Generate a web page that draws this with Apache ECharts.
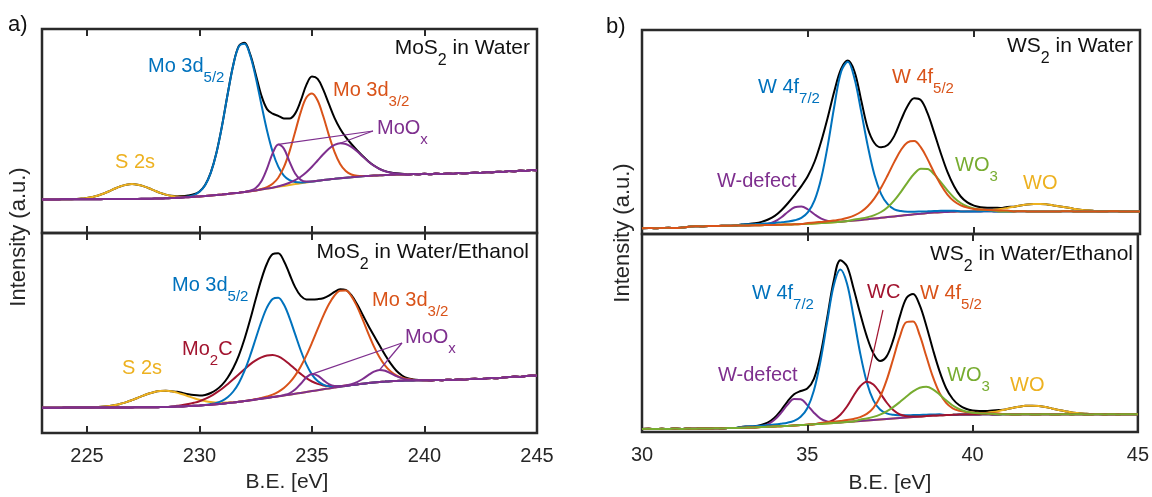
<!DOCTYPE html>
<html>
<head>
<meta charset="utf-8">
<title>XPS core levels of MoS2 and WS2</title>
<script src="https://cdn.jsdelivr.net/npm/echarts@6/dist/echarts.min.js"></script>
<style>
  html, body { margin: 0; padding: 0; background: #ffffff; }
  #chart { width: 1152px; height: 497px; }
</style>
</head>
<body>
<div id="chart"></div>
<script>
// ---------------- binding-energy grids ----------------
const moBeMin = 223, moBeMax = 245, moStep = 0.25;   // Mo 3d / S 2s window
const wBeMin = 30, wBeMax = 45, wStep = 0.2;          // W 4f window
const moTicks = [225, 230, 235, 240, 245];
const wTicks = [30, 35, 40, 45];

// ---------------- a) MoS2 in water ----------------
// Shirley background, one value per grid step from 223 eV
const moWaterBg = [
  33.6,33.6,33.6,33.6,33.7,33.7,33.7,33.7,33.8,33.8,
  33.8,33.9,33.9,34.0,34.0,34.0,34.1,34.1,34.2,34.3,
  34.4,34.5,34.7,34.9,35.2,35.5,35.8,36.2,36.6,37.0,
  37.5,38.0,38.5,39.1,39.7,40.3,41.0,41.8,42.6,43.5,
  44.4,45.3,46.2,47.1,48.0,48.9,49.8,50.6,51.4,52.2,
  52.9,53.6,54.2,54.8,55.3,55.8,56.3,56.7,57.1,57.4,
  57.7,58.0,58.2,58.4,58.6,58.3,58.9,58.6,59.2,58.8,
  59.4,59.0,59.6,59.3,59.9,59.5,60.1,60.4,60.0,60.8,
  60.5,61.3,61.0,61.9,61.6,62.4,62.1,63.0,62.6];
// envelope and fitted components: intensity above background, starting at *From (eV)
const moWaterEnvFrom = 224.5;
const moWaterEnv = [
  0.3,0.7,1.3,2.2,3.7,5.6,8.0,10.5,12.7,14.2,
  14.8,14.2,12.7,10.5,8.0,5.6,3.7,2.3,1.6,1.4,
  1.8,2.5,5.0,11.0,22.8,42.0,68.6,99.7,128.4,146.8,
  149.2,137.0,116.0,94.0,79.5,74.0,71.0,67.5,66.5,70.5,
  82.5,97.5,105.0,102.0,90.5,75.5,61.0,49.5,40.5,33.2,
  26.5,20.4,14.7,10.1,6.5,3.9,2.3,1.3,0.7,0.3];
const moWaterS2sFrom = 224.5;
const moWaterS2s = [0.3,0.7,1.3,2.2,3.7,5.6,8.0,10.5,12.7,14.2,14.8,14.2,12.7,10.5,8.0,5.6,3.7,2.2,1.3,0.7,0.3];
const moWater3d52From = 229.5;
const moWater3d52 = [0.6,1.7,4.6,10.8,22.6,41.8,68.4,99.5,128.1,146.3,148.3,135.9,112.9,85.0,58.1,36.0,20.2,10.3,4.8,2.0,0.8,0.3];
const moWater3d32From = 232.75;
const moWater3d32 = [0.5,1.5,3.9,9.1,18.7,33.4,52.1,71.1,84.8,88.2,80.3,63.8,44.3,26.9,14.2,6.6,2.7,0.9,0.3];
const moWaterOx1From = 232.25;
const moWaterOx1 = [0.5,2.4,8.2,19.9,34.4,42.4,37.3,23.4,10.5,3.3,0.8,0.1];
const moWaterOx2From = 233.5;
const moWaterOx2 = [0.5,1.1,2.2,3.9,6.5,10.2,14.9,20.3,25.8,30.6,33.9,35.0,33.7,30.3,25.4,19.9,14.5,9.9,6.3,3.7,2.1,1.1,0.5,0.2];

// ---------------- a) MoS2 in water/ethanol ----------------
const moEthBg = [
  25.3,25.3,25.3,25.3,25.4,25.4,25.4,25.4,25.4,25.5,
  25.5,25.5,25.5,25.5,25.6,25.6,25.6,25.7,25.7,25.8,
  25.8,25.9,26.0,26.2,26.4,26.6,26.9,27.2,27.5,27.9,
  28.3,28.8,29.3,29.9,30.5,31.2,31.9,32.7,33.5,34.3,
  35.1,35.9,36.7,37.5,38.3,39.2,40.1,41.0,41.9,42.8,
  43.7,44.6,45.5,46.3,47.1,47.9,48.6,49.3,49.9,50.5,
  51.0,51.4,51.8,52.1,52.3,52.5,52.6,52.7,52.8,52.6,
  53.1,52.8,53.3,53.0,53.6,53.3,53.9,54.2,53.9,54.6,
  55.0,54.7,55.5,55.9,56.4,56.1,56.9,57.4,57.2];
const moEthEnvFrom = 225.25;
const moEthEnv = [
  0.3,0.5,0.9,1.5,2.4,3.7,5.3,7.3,9.4,11.7,
  13.7,15.3,16.1,16.2,15.5,14.8,13.4,11.9,10.7,10.0,
  10.2,11.7,14.5,18.8,25.4,34.5,46.5,62.1,80.5,100.5,
  119.3,134.4,142.9,143.0,134.6,120.7,106.7,97.0,92.6,91.5,
  91.0,91.1,92.7,95.6,97.4,96.0,89.9,80.3,69.0,57.7,
  47.0,36.7,26.7,17.5,10.1,5.2,2.3,1.0,0.3];
const moEthS2sFrom = 225.25;
const moEthS2s = [0.3,0.5,0.9,1.5,2.4,3.7,5.3,7.3,9.4,11.7,13.7,15.3,16.1,16.2,15.5,14.0,12.1,9.9,7.7,5.7,4.0,2.6,1.7,1.0,0.6,0.3];
const moEthMo2CFrom = 229.0;
const moEthMo2C = [0.8,1.3,2.0,3.0,4.3,6.2,8.5,11.5,14.9,18.9,23.2,27.6,31.9,35.9,39.1,41.4,42.5,42.2,39.9,35.8,30.5,24.7,19.0,13.8,9.6,6.3,3.9,2.3,1.3,0.7,0.4];
const moEth3d52From = 230.5;
const moEth3d52 = [0.6,1.3,2.9,5.9,11.0,18.9,30.2,44.6,61.0,77.2,90.5,98.2,98.6,90.9,76.8,59.6,42.4,27.6,16.5,9.1,4.6,2.1,0.9,0.3];
const moEth3d32From = 232.5;
const moEth3d32 = [0.4,0.7,1.4,2.5,4.5,7.5,12.0,18.2,26.4,36.6,48.4,61.0,73.4,84.1,92.0,96.0,95.3,89.0,78.0,64.3,49.8,36.2,24.7,15.9,9.6,5.4,2.9,1.4,0.7,0.3];
const moEthOx1From = 233.75;
const moEthOx1 = [0.4,1.4,4.2,9.2,14.6,17.0,14.6,9.2,4.2,1.4,0.4];
const moEthOx2From = 236.5;
const moEthOx2 = [0.3,0.9,2.3,4.7,7.9,10.8,12.0,10.8,7.9,4.7,2.3,0.9,0.3];

// ---------------- b) WS2 in water ----------------
const wWaterBg = [
  5.8,6.1,5.7,6.0,6.3,5.9,6.4,7.2,7.8,7.6,
  8.0,7.9,8.2,8.3,8.4,8.5,8.6,8.7,8.8,9.0,
  9.1,9.3,9.5,9.7,9.9,10.2,10.5,10.9,11.3,11.8,
  12.3,12.9,13.5,14.1,14.8,15.5,16.2,16.9,17.6,18.3,
  19.0,19.7,20.3,20.9,21.4,21.8,22.1,22.3,22.5,22.6,
  22.6,22.6,22.7,22.6,22.5,22.6,22.6,22.7,22.6,22.5,
  22.6,22.6,22.5,22.6,22.7,22.6,22.5,22.6,22.6,22.5,
  22.6,22.7,22.6,22.5,22.6,22.6];
const wWaterEnvFrom = 33.0;
const wWaterEnv = [
  0.9,1.3,2.0,3.3,5.5,9.0,14.5,21.5,29.5,38.0,
  48.0,62.0,82.0,106.0,132.0,153.0,160.5,149.0,120.0,91.0,
  75.5,70.5,72.0,80.5,95.5,109.0,116.0,113.5,100.0,80.0,
  59.0,40.0,25.5,15.0,9.0,5.8,4.2,3.6,3.7,3.5,
  4.4,4.7,5.9,6.8,7.4,7.5,7.0,6.1,5.0,3.8,
  2.7,1.7,1.1,0.6,0.3,0.2];
const wWaterDefectFrom = 33.6;
const wWaterDefect = [0.3,1.2,3.4,7.5,12.8,17.1,17.7,14.3,9.0,4.4,1.7,0.5];
const wWater4f72From = 33.0;
const wWater4f72 = [0.9,1.1,1.2,1.4,1.6,2.0,2.4,2.9,4.0,6.3,11.7,23.4,45.1,78.1,117.5,150.2,159.4,142.1,108.8,73.3,43.7,24.0,12.9,7.1,4.6,3.3,2.6,2.2,1.8,1.6,1.4,1.2,1.0];
const wWater4f52From = 35.0;
const wWater4f52 = [0.9,1.0,1.2,1.4,1.8,2.3,3.3,5.1,8.1,13.0,20.2,30.1,41.9,54.5,65.7,72.7,73.3,66.3,54.0,40.0,27.4,17.3,10.4,6.2,3.8,2.5,1.8,1.4,1.2,1.0,0.9];
const wWaterWO3From = 36.4;
const wWaterWO3 = [1.0,1.4,2.1,3.4,5.8,9.9,16.0,23.9,32.7,40.5,44.9,44.1,38.3,30.0,21.4,14.0,8.5,4.9,2.9,1.8,1.2,0.9];
const wWaterWOFrom = 39.8;
const wWaterWO = [0.1,0.3,0.5,1.0,1.6,2.5,3.5,4.7,5.9,6.8,7.4,7.5,7.0,6.1,5.0,3.8,2.7,1.7,1.1,0.6,0.3,0.2];

// ---------------- b) WS2 in water/ethanol ----------------
const wEthBg = [
  3.0,3.3,2.9,3.2,3.0,3.4,3.1,3.5,3.2,3.6,
  3.4,3.7,3.6,3.9,4.0,4.2,4.4,4.6,4.9,5.2,
  5.5,5.8,6.1,6.5,6.9,7.3,7.7,8.1,8.6,9.1,
  9.6,10.1,10.6,11.1,11.6,12.1,12.6,13.1,13.6,14.1,
  14.6,15.1,15.6,16.0,16.4,16.7,17.0,17.2,17.4,17.5,
  17.6,17.6,17.7,17.6,17.6,17.7,17.6,17.6,17.7,17.6,
  17.6,17.7,17.6,17.6,17.7,17.6,17.7,17.6,17.6,17.7,
  17.6,17.7,17.6,17.7,17.7,17.7];
const wEthEnvFrom = 33.0;
const wEthEnv = [
  0.9,1.1,1.2,2.1,4.1,8.4,15.6,24.3,31.2,34.1,
  36.1,45.4,69.4,105.2,142.2,162.2,155.7,132.8,107.4,84.0,
  66.5,58.5,62.5,78.5,101.5,119.5,122.9,111.3,90.3,66.1,
  44.2,26.8,15.8,9.3,5.7,3.9,3.4,3.3,4.0,4.4,
  4.9,6.4,7.6,8.5,8.7,8.3,7.3,5.9,4.5,3.1,
  2.0,1.2,0.7,0.3,0.2];
const wEthDefectFrom = 33.6;
const wEthDefect = [0.7,2.4,6.4,13.1,21.1,26.5,25.8,19.6,11.6,5.3,1.9,0.5];
const wEth4f72From = 33.0;
const wEth4f72 = [0.9,1.1,1.2,1.4,1.7,2.0,2.5,3.2,4.7,8.3,16.5,33.8,62.9,101.2,137.4,153.0,138.5,104.7,67.7,38.2,19.5,9.9,5.5,3.6,2.7,2.1,1.8,1.5,1.3,1.1,1.0];
const wEthWCFrom = 35.4;
const wEthWC = [0.3,1.0,3.1,7.7,15.4,25.6,34.7,38.7,35.4,26.6,16.4,8.3,3.4,1.2,0.3];
const wEth4f52From = 35.4;
const wEth4f52 = [0.9,1.1,1.2,1.5,1.8,2.5,3.8,6.5,12.1,22.4,38.7,59.7,81.2,95.3,95.3,81.2,59.7,38.7,22.4,12.1,6.5,3.8,2.5,1.8,1.5,1.2,1.1,0.9];
const wEthWO3From = 36.6;
const wEthWO3 = [1.2,1.9,3.0,4.8,7.5,11.3,15.9,20.9,25.5,28.6,29.3,26.3,20.8,14.7,9.3,5.5,3.0,1.7,1.1,0.7,0.6];
const wEthWOFrom = 39.8;
const wEthWO = [0.2,0.4,0.8,1.4,2.3,3.5,4.9,6.4,7.6,8.5,8.7,8.3,7.3,5.9,4.5,3.1,2.0,1.2,0.7,0.3,0.2];

// ---------------- drawing ----------------
const FONT = '"Liberation Sans", Arial, Helvetica, sans-serif';
const INK = '#262626';
const FRAME = '#2a2a2a';
const C = {
  env: '#000000', blue: '#0072BD', orange: '#D95319', yellow: '#EDB120',
  purple: '#7E2F8E', green: '#77AC30', red: '#A2142F'
};

const chart = echarts.init(document.getElementById('chart'), null, { renderer: 'canvas', width: 1152, height: 497 });

// each panel: frame rectangle, x window, and curves in drawing order (first = bottom)
const panels = [
  { rect: { left: 42, top: 29, width: 495, height: 204 }, lo: moBeMin, hi: moBeMax, step: moStep, ymax: 204,
    ticks: moTicks, labels: false, bg: moWaterBg,
    curves: [
      ['env', moWaterEnv, moWaterEnvFrom, C.env],
      ['s2s', moWaterS2s, moWaterS2sFrom, C.yellow],
      ['d52', moWater3d52, moWater3d52From, C.blue],
      ['d32', moWater3d32, moWater3d32From, C.orange],
      ['ox1', moWaterOx1, moWaterOx1From, C.purple],
      ['ox2', moWaterOx2, moWaterOx2From, C.purple]
    ] },
  { rect: { left: 42, top: 233, width: 495, height: 200 }, lo: moBeMin, hi: moBeMax, step: moStep, ymax: 200,
    ticks: moTicks, labels: true, bg: moEthBg,
    curves: [
      ['env', moEthEnv, moEthEnvFrom, C.env],
      ['s2s', moEthS2s, moEthS2sFrom, C.yellow],
      ['mo2c', moEthMo2C, moEthMo2CFrom, C.red],
      ['d52', moEth3d52, moEth3d52From, C.blue],
      ['d32', moEth3d32, moEth3d32From, C.orange],
      ['ox1', moEthOx1, moEthOx1From, C.purple],
      ['ox2', moEthOx2, moEthOx2From, C.purple]
    ] },
  { rect: { left: 642, top: 30, width: 498, height: 204 }, lo: wBeMin, hi: wBeMax, step: wStep, ymax: 204,
    ticks: wTicks, labels: false, bg: wWaterBg,
    curves: [
      ['env', wWaterEnv, wWaterEnvFrom, C.env],
      ['wo', wWaterWO, wWaterWOFrom, C.yellow],
      ['def', wWaterDefect, wWaterDefectFrom, C.purple],
      ['f72', wWater4f72, wWater4f72From, C.blue],
      ['wo3', wWaterWO3, wWaterWO3From, C.green],
      ['f52', wWater4f52, wWater4f52From, C.orange]
    ] },
  { rect: { left: 642, top: 234, width: 498, height: 198 }, lo: wBeMin, hi: wBeMax, step: wStep, ymax: 198,
    ticks: wTicks, labels: true, bg: wEthBg,
    curves: [
      ['env', wEthEnv, wEthEnvFrom, C.env],
      ['wo', wEthWO, wEthWOFrom, C.yellow],
      ['def', wEthDefect, wEthDefectFrom, C.purple],
      ['f72', wEth4f72, wEth4f72From, C.blue],
      ['wc', wEthWC, wEthWCFrom, C.red],
      ['f52', wEth4f52, wEth4f52From, C.orange],
      ['wo3', wEthWO3, wEthWO3From, C.green]
    ] }
];

// background + component, evaluated on the panel grid
function onGrid(p, vals, from) {
  const off = Math.round((from - p.lo) / p.step);
  return p.bg.map((b, i) => {
    const k = i - off;
    const v = (k >= 0 && k < vals.length) ? vals[k] : 0;
    return [Math.round((p.lo + i * p.step) * 100) / 100, Math.round((b + v) * 100) / 100];
  });
}

const TICK_PX = 7;   // inward tick length, measured from the frame line
const grids = [], xAxes = [], yAxes = [], series = [];
const seriesIndex = {};
panels.forEach((p, g) => {
  grids.push(Object.assign({ show: true, borderColor: FRAME, borderWidth: 2.5, backgroundColor: 'transparent' }, p.rect));
  xAxes.push({
    type: 'value', gridIndex: g, min: p.lo, max: p.hi, position: 'bottom',
    axisLine: { show: false }, splitLine: { show: false }, axisTick: { show: false },
    axisLabel: { show: p.labels, customValues: p.ticks, margin: 13, fontSize: 20, color: INK, fontFamily: FONT }
  });
  yAxes.push({ type: 'value', gridIndex: g, min: 0, max: p.ymax, show: false });
  p.curves.forEach(([key, vals, from, color], k) => {
    seriesIndex[g + ':' + key] = series.length;
    series.push({
      type: 'line', xAxisIndex: g, yAxisIndex: g, data: onGrid(p, vals, from),
      showSymbol: false, symbol: 'none', smooth: 0.35, silent: true, animation: false,
      lineStyle: { width: 2, color: color }, itemStyle: { color: color }, z: 2 + k
    });
  });
  // inward ticks on the bottom and top edges of the frame, in axis units
  const len = TICK_PX * p.ymax / p.rect.height;
  const tickSegs = [];
  p.ticks.filter(v => v > p.lo && v < p.hi).forEach(v => {
    tickSegs.push({ coords: [[v, 0], [v, len]] });
    tickSegs.push({ coords: [[v, p.ymax - len], [v, p.ymax]] });
  });
  series.push({
    type: 'lines', coordinateSystem: 'cartesian2d', xAxisIndex: g, yAxisIndex: g,
    data: tickSegs, silent: true, animation: false, z: 20,
    lineStyle: { color: FRAME, width: 2, opacity: 1, curveness: 0 }
  });
});

chart.setOption({
  animation: false,
  backgroundColor: '#ffffff',
  grid: grids, xAxis: xAxes, yAxis: yAxes, series: series
});

// ---------------- text and leader lines ----------------
const measureCtx = document.createElement('canvas').getContext('2d');
function textWidth(str, size) {
  measureCtx.font = size + 'px ' + FONT;
  return measureCtx.measureText(str).width;
}
function textEl(str, x, y, size, color, align, extra) {
  return Object.assign({
    type: 'text', x: x, y: y, z: 100, silent: true,
    style: { text: str, fill: color, fontSize: size, fontFamily: FONT,
             textAlign: align || 'left', align: align || 'left',
             textVerticalAlign: 'middle', verticalAlign: 'middle' }
  }, extra || {});
}
// label with subscripts: parts = [[text, isSubscript], ...]
function richLabel(spec) {
  const size = spec.size || 20, subSize = Math.round(size * 0.75);
  const pieces = spec.parts.map(([t, s]) => ({ t: t, s: !!s, fs: s ? subSize : size }));
  const total = pieces.reduce((a, q) => a + textWidth(q.t, q.fs), 0);
  let cx = spec.right ? spec.x - total : spec.x;
  return pieces.map(q => {
    const el = textEl(q.t, cx, q.s ? spec.y + size * 0.6 : spec.y, q.fs, spec.color);
    cx += textWidth(q.t, q.fs);
    return el;
  });
}

const TITLE = '#111111';
const labelSpecs = [
  { x: 115, y: 162, color: C.yellow, parts: [['S 2s']] },
  { x: 148, y: 66, color: C.blue, parts: [['Mo 3d'], ['5/2', 1]] },
  { x: 333, y: 90, color: C.orange, parts: [['Mo 3d'], ['3/2', 1]] },
  { x: 377, y: 128, color: C.purple, parts: [['MoO'], ['x', 1]] },
  { x: 530, y: 48, right: true, size: 21, color: TITLE, parts: [['MoS'], ['2', 1], [' in Water']] },

  { x: 122, y: 368, color: C.yellow, parts: [['S 2s']] },
  { x: 182, y: 349, color: C.red, parts: [['Mo'], ['2', 1], ['C']] },
  { x: 172, y: 285, color: C.blue, parts: [['Mo 3d'], ['5/2', 1]] },
  { x: 372, y: 300, color: C.orange, parts: [['Mo 3d'], ['3/2', 1]] },
  { x: 405, y: 337, color: C.purple, parts: [['MoO'], ['x', 1]] },
  { x: 529, y: 252, right: true, size: 21, color: TITLE, parts: [['MoS'], ['2', 1], [' in Water/Ethanol']] },

  { x: 1133, y: 46, right: true, size: 21, color: TITLE, parts: [['WS'], ['2', 1], [' in Water']] },
  { x: 758, y: 87, color: C.blue, parts: [['W 4f'], ['7/2', 1]] },
  { x: 892, y: 77, color: C.orange, parts: [['W 4f'], ['5/2', 1]] },
  { x: 955, y: 165, color: C.green, parts: [['WO'], ['3', 1]] },
  { x: 1023, y: 183, color: C.yellow, parts: [['WO']] },
  { x: 717, y: 181, color: C.purple, parts: [['W-defect']] },

  { x: 1133, y: 254, right: true, size: 21, color: TITLE, parts: [['WS'], ['2', 1], [' in Water/Ethanol']] },
  { x: 752, y: 293, color: C.blue, parts: [['W 4f'], ['7/2', 1]] },
  { x: 867, y: 292, color: C.red, parts: [['WC']] },
  { x: 920, y: 293, color: C.orange, parts: [['W 4f'], ['5/2', 1]] },
  { x: 947, y: 375, color: C.green, parts: [['WO'], ['3', 1]] },
  { x: 1010, y: 385, color: C.yellow, parts: [['WO']] },
  { x: 718, y: 375, color: C.purple, parts: [['W-defect']] }
];

// pixel position of a component's maximum
function peakPixel(g, key) {
  const p = panels[g];
  const [, vals, from] = p.curves.find(c => c[0] === key);
  let k = 0;
  vals.forEach((v, i) => { if (v > vals[k]) k = i; });
  const x = from + k * p.step;
  const i = Math.round((x - p.lo) / p.step);
  return chart.convertToPixel({ seriesIndex: seriesIndex[g + ':' + key] }, [x, p.bg[i] + vals[k]]);
}
const leaderSpecs = [
  { g: 0, key: 'ox1', from: [373, 131], color: C.purple },
  { g: 0, key: 'ox2', from: [373, 131], color: C.purple },
  { g: 1, key: 'ox1', from: [402, 343], color: C.purple },
  { g: 1, key: 'ox2', from: [402, 343], color: C.purple },
  { g: 3, key: 'wc', from: [883, 310], color: C.red }
];

const graphics = [];
leaderSpecs.forEach(s => {
  const to = peakPixel(s.g, s.key);
  graphics.push({
    type: 'line', z: 99, silent: true,
    shape: { x1: s.from[0], y1: s.from[1], x2: to[0], y2: to[1] },
    style: { stroke: s.color, lineWidth: 1.2 }
  });
});
labelSpecs.forEach(s => graphics.push(...richLabel(s)));

// panel letters and axis names
graphics.push(textEl('a)', 8, 25, 22, '#111111'));
graphics.push(textEl('b)', 606, 27, 22, '#111111'));
graphics.push(textEl('B.E. [eV]', 287, 482, 21, INK, 'center'));
graphics.push(textEl('B.E. [eV]', 890, 483, 21, INK, 'center'));
graphics.push(textEl('Intensity (a.u.)', 19, 237, 22, INK, 'center', { rotation: Math.PI / 2 }));
graphics.push(textEl('Intensity (a.u.)', 623, 233, 22, INK, 'center', { rotation: Math.PI / 2 }));

chart.setOption({ graphic: { elements: graphics } });
</script>
</body>
</html>
